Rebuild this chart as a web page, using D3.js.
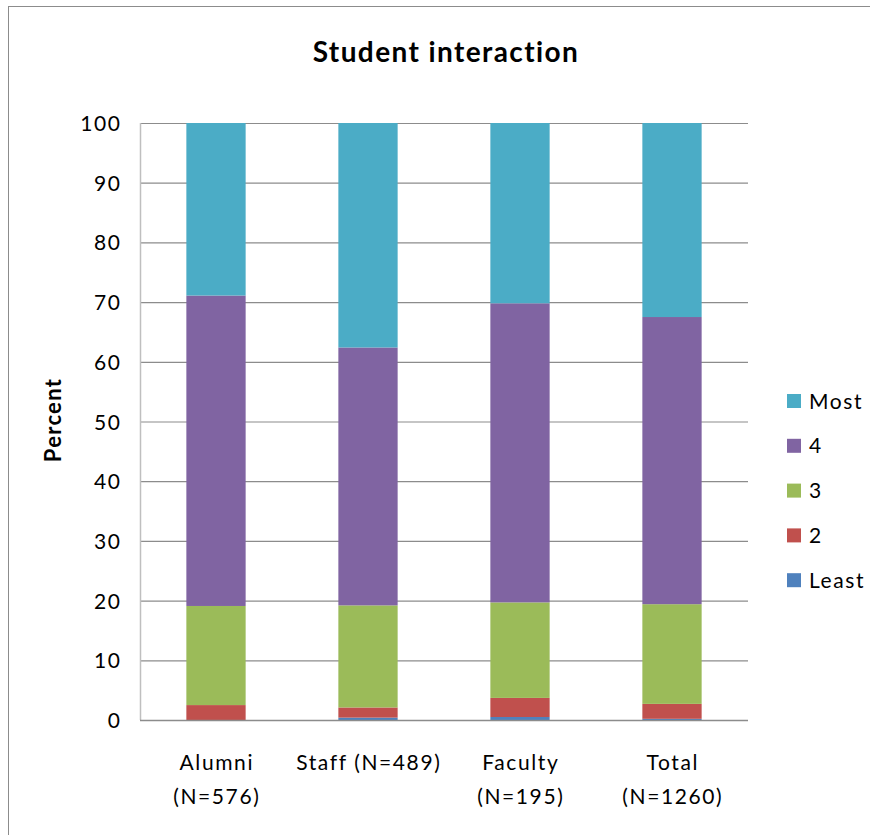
<!DOCTYPE html>
<html><head><meta charset="utf-8">
<script src="https://cdn.jsdelivr.net/npm/d3@7"></script>
<style>body{margin:0;background:#fff}svg{display:block;font-family:Lato,"Open Sans",sans-serif}</style>
</head><body>
<svg id="c" width="870" height="835"></svg>
<script>
const categories = [["Alumni","(N=576)"],["Staff (N=489)"],["Faculty","(N=195)"],["Total","(N=1260)"]];
const seriesNames = ["Least","2","3","4","Most"];
const least = [0, 0.4, 0.5, 0.2];
const two = [2.5, 1.7, 3.2, 2.5];
const three = [16.6, 17.1, 16.0, 16.7];
const four = [52.0, 43.2, 50.1, 48.1];
const most = [28.9, 37.6, 30.2, 32.5];
const yTicks = [0,10,20,30,40,50,60,70,80,90,100];
const colors = ["#4F81BD","#C0504D","#9BBB59","#8064A2","#4BACC6"];

const svg = d3.select("#c");
const L=140, R=748, T=123, B=720;
const LS = 1.6;
// outer frame
svg.append("rect").attr("x",8.5).attr("y",6.5).attr("width",900).attr("height",900)
  .attr("fill","none").attr("stroke","#8c8c8c").attr("stroke-width",1);

const keys = categories.map((c,i)=>i);
const x = d3.scaleBand().domain(keys).range([L,R]).paddingInner(0.61).paddingOuter(0.305);
const y = d3.scaleLinear().domain([0,100]).range([B,T]);

// gridlines
svg.append("g").selectAll("line").data(yTicks.filter(d=>d>0)).join("line")
  .attr("x1",L).attr("x2",R).attr("y1",d=>y(d)+0.5).attr("y2",d=>y(d)+0.5)
  .attr("stroke","#8c8c8c").attr("stroke-width",1.2);

const table = keys.map(i=>({i, Least:least[i], "2":two[i], "3":three[i], "4":four[i], Most:most[i]}));
const stack = d3.stack().keys(seriesNames)(table);
svg.append("g").selectAll("g").data(stack).join("g").attr("fill",(d,k)=>colors[k])
  .selectAll("rect").data(d=>d).join("rect")
  .attr("x",d=>x(d.data.i)).attr("width",x.bandwidth())
  .attr("y",d=>y(d[1])).attr("height",d=>y(d[0])-y(d[1]));

// axes lines
svg.append("line").attr("x1",L+0.5).attr("x2",L+0.5).attr("y1",T).attr("y2",B)
  .attr("stroke","#bfbfbf").attr("stroke-width",1.5);
svg.append("line").attr("x1",L).attr("x2",R).attr("y1",B+0.5).attr("y2",B+0.5)
  .attr("stroke","#8c8c8c").attr("stroke-width",1.5);

// y tick labels
const yAxis = d3.axisLeft(y).tickValues(yTicks).tickSize(0).tickPadding(20-LS);
const ya = svg.append("g").attr("transform",`translate(${L},0)`).call(yAxis);
ya.select(".domain").remove();
ya.selectAll("text").attr("font-size",21).attr("font-family","Lato").attr("fill","#000")
  .attr("dy","0.36em").attr("letter-spacing",LS);

// x labels
const xl = svg.append("g").selectAll("text").data(keys).join("text")
  .attr("x",i=>x(i)+x.bandwidth()/2).attr("y",770)
  .attr("text-anchor","middle").attr("font-size",21).attr("letter-spacing",LS).attr("fill","#000");
xl.each(function(i){
  const t=d3.select(this);
  categories[i].forEach((line,j)=>t.append("tspan").attr("x",x(i)+x.bandwidth()/2+LS/2).attr("dy",j?34:0).text(line));
});

// title
svg.append("text").attr("x",446).attr("y",62).attr("text-anchor","middle")
  .attr("font-size",28).attr("font-weight","bold").attr("letter-spacing",1.4).text("Student interaction");
// y label
svg.append("text").attr("transform","translate(61,420) rotate(-90)").attr("text-anchor","middle")
  .attr("font-size",22).attr("font-weight","bold").attr("letter-spacing",1.3).text("Percent");

// legend
const leg = svg.append("g").selectAll("g").data(seriesNames.slice().reverse()).join("g")
  .attr("transform",(d,k)=>`translate(787,${401+k*44.8})`);
leg.append("rect").attr("x",0).attr("y",-7).attr("width",14).attr("height",14)
  .attr("fill",d=>colors[seriesNames.indexOf(d)]);
leg.append("text").attr("x",22).attr("y",0).attr("dy","0.36em").attr("font-size",21)
  .attr("letter-spacing",LS).text(d=>d);
</script>
</body></html>
